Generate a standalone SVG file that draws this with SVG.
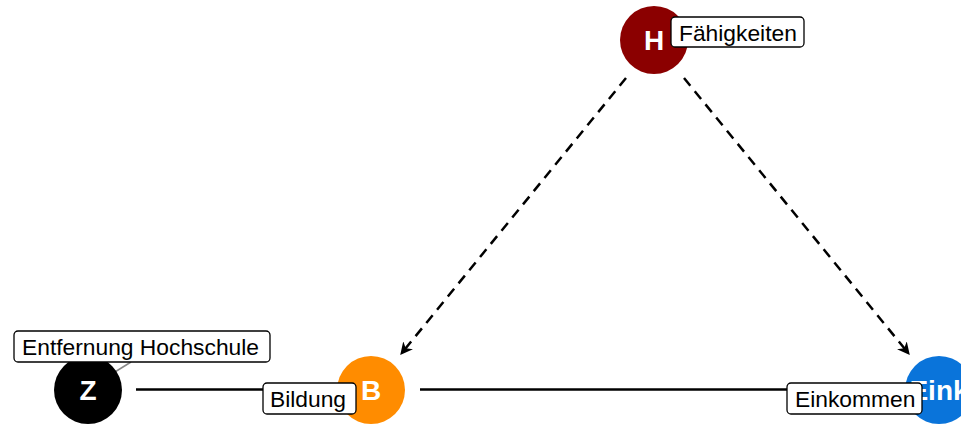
<svg xmlns="http://www.w3.org/2000/svg" width="961" height="428" viewBox="0 0 961 428">
<style>
.lbl rect{fill:#fff;stroke:#000;stroke-width:1.3}
.lbl text{font-family:"Liberation Sans",Arial,sans-serif;font-size:22.8px;fill:#000}
.node text{font-family:"Liberation Sans",Arial,sans-serif;font-size:28px;font-weight:bold;fill:#fff;text-anchor:middle}
.edge{stroke:#000;stroke-width:2.5;fill:none}
.dash{stroke-dasharray:10,7}
</style>
<defs>
<marker id="arr" viewBox="0 0 10 10" refX="9" refY="5" markerWidth="5" markerHeight="5" orient="auto" markerUnits="strokeWidth">
<path d="M0,0 L10,5 L0,10 L3,5 Z" fill="#000"/>
</marker>
</defs>
<g id="connectors">
<line class="edge" x1="136" y1="389.5" x2="300" y2="389.5"/>
<line class="edge" x1="420" y1="389.5" x2="820" y2="389.5"/>
<line class="edge dash" x1="626" y1="78" x2="401" y2="354" marker-end="url(#arr)"/>
<line class="edge dash" x1="684" y1="78" x2="909" y2="354" marker-end="url(#arr)"/>
<line x1="102" y1="380" x2="131" y2="362" stroke="#888" stroke-width="1.5"/>
</g>
<g id="node-H" class="node">
<circle cx="654" cy="40" r="34" fill="#8b0000"/>
<text x="654" y="50">H</text>
</g>
<g id="node-Z" class="node">
<circle cx="88" cy="390" r="34" fill="#000"/>
<text x="88" y="400">Z</text>
</g>
<g id="node-B" class="node">
<circle cx="371" cy="390" r="34" fill="#ff8c00"/>
<text x="371" y="400">B</text>
</g>
<g id="node-Eink" class="node">
<circle cx="939" cy="390" r="34" fill="#0a74da"/>
<text x="939" y="400">Eink</text>
</g>
<g id="label-H" class="lbl">
<rect x="671" y="17" width="133" height="30" rx="4"/>
<text x="679" y="41">Fähigkeiten</text>
</g>
<g id="label-Z" class="lbl">
<rect x="14" y="331" width="256" height="31" rx="4"/>
<text x="22" y="355">Entfernung Hochschule</text>
</g>
<g id="label-B" class="lbl">
<rect x="263" y="383" width="93" height="31" rx="4"/>
<text x="270" y="407">Bildung</text>
</g>
<g id="label-Eink" class="lbl">
<rect x="787" y="383" width="135" height="31" rx="4"/>
<text x="795" y="407">Einkommen</text>
</g>
</svg>
